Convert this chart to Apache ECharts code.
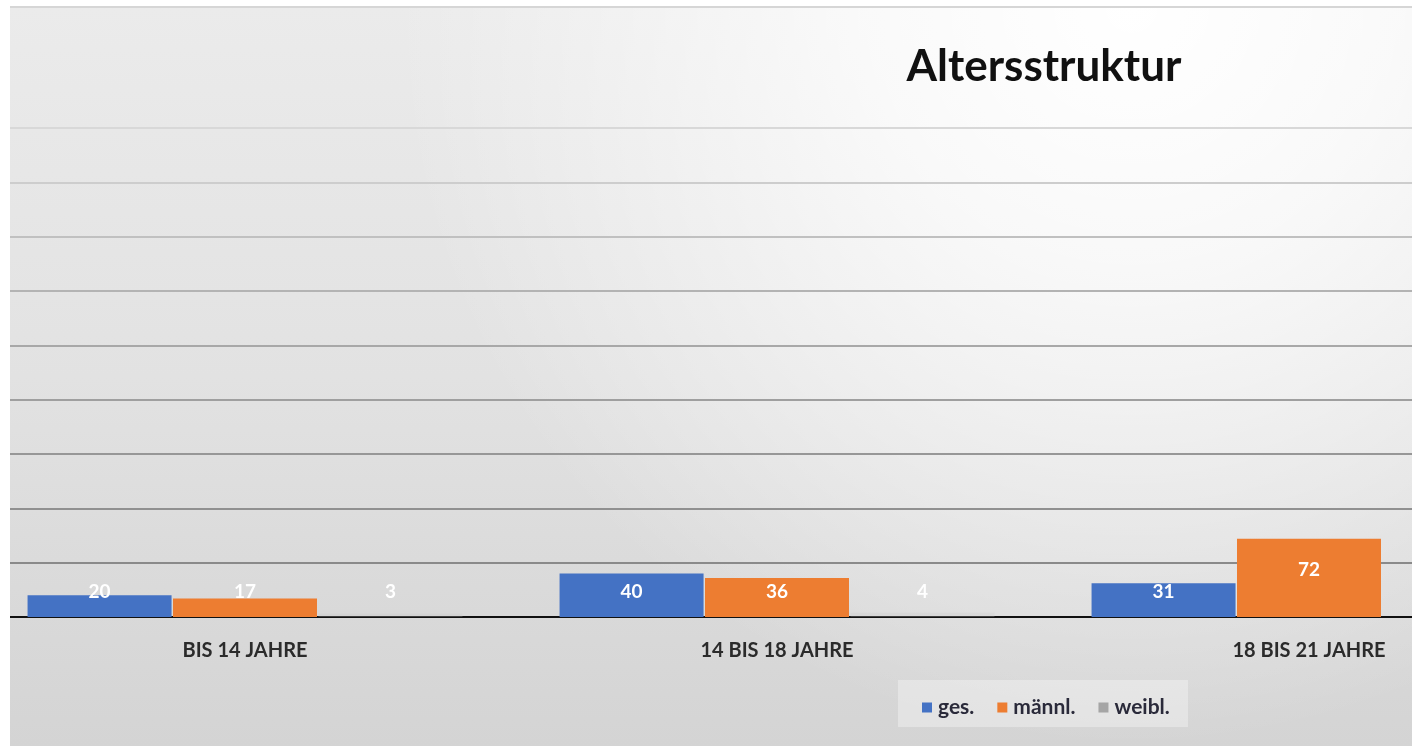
<!DOCTYPE html>
<html>
<head>
<meta charset="utf-8">
<title>Altersstruktur</title>
<script src="https://cdn.jsdelivr.net/npm/echarts@6/dist/echarts.min.js"></script>
<style>
	html, body { margin: 0; padding: 0; background: #ffffff; }
	#chart { width: 1412px; height: 746px; }
</style>
</head>
<body>
<div id="chart"></div>
<script>
// Data
const categories = ["BIS 14 JAHRE", "14 BIS 18 JAHRE", "18 BIS 21 JAHRE"];
const seriesNames = ["ges.", "männl.", "weibl."];
const gesValues = [20, 40, 31];
const maennlValues = [17, 36, 72];
const weiblValues = [3, 4, null]; // third one is cut off at the right edge
const colors = ["#4472C4", "#ED7D31", "#A5A5A5"];

// grid lines get lighter towards the top (they sit on a white-to-grey background)
const splitColors = [
	"#888888", "#8a8a8a", "#909090", "#979797", "#9f9f9f",
	"#a8a8a8", "#b3b3b3", "#c0c0c0", "#cdcdcd", "#d8d8d8",
];

const labelFont = "Lato, 'Open Sans', sans-serif";

function buildData(values) {
	// bars with a tall body get their label a bit higher, like in the original
	return values.map((v) => {
		if (v !== null && v > 60) {
			return { value: v, label: { position: "inside", offset: [0, -8] } };
		}
		return v;
	});
}

const chart = echarts.init(document.getElementById("chart"), null, {
	renderer: "canvas",
});

const barLabel = {
	show: true,
	position: "insideBottom",
	distance: 16,
	color: "#ffffff",
	fontFamily: labelFont,
	fontWeight: "bold",
	fontSize: 19,
};

chart.setOption({
	animation: false,
	backgroundColor: "#ffffff",
	color: colors,
	graphic: [
		{
			// chart area background: grey, lighter at the top
			type: "rect",
			z: -10,
			shape: { x: 10, y: 7, width: 1402, height: 739 },
			style: {
				fill: {
					type: "linear",
					x: 0, y: 0, x2: 0, y2: 1,
					colorStops: [
						{ offset: 0, color: "#ebebeb" },
						{ offset: 0.5, color: "#e2e2e2" },
						{ offset: 1, color: "#d4d4d4" },
					],
				},
			},
		},
		{
			// white glow in the top right corner
			type: "rect",
			z: -9,
			shape: { x: 10, y: 7, width: 1402, height: 739 },
			style: {
				fill: {
					type: "radial",
					x: 0.8,
					y: 0.0,
					r: 1.0,
					colorStops: [
						{ offset: 0, color: "rgba(255,255,255,1)" },
						{ offset: 0.35, color: "rgba(255,255,255,0.75)" },
						{ offset: 1, color: "rgba(255,255,255,0)" },
					],
				},
			},
		},
		{
			type: "line",
			z: 5,
			shape: { x1: 10, y1: 7, x2: 1412, y2: 7 },
			style: { stroke: "#d6d6d6", lineWidth: 2 },
		},
		{
			// white margin on the left, hides the overflowing grid
			type: "rect",
			z: 100,
			shape: { x: 0, y: 0, width: 10, height: 746 },
			style: { fill: "#ffffff" },
		},
		{
			type: "rect",
			z: 1,
			shape: { x: 898, y: 680, width: 290, height: 47 },
			style: { fill: "rgba(245,245,245,0.45)" },
		},
	],
	title: {
		text: "Altersstruktur",
		left: 1039,
		top: 40,
		textAlign: "center",
		textStyle: {
			fontFamily: labelFont,
			fontWeight: "bold",
			fontSize: 44,
			color: "#111111",
		},
	},
	legend: {
		data: [
			{ name: seriesNames[0] },
			{ name: seriesNames[1] },
			{ name: seriesNames[2], itemStyle: { color: colors[2], opacity: 1 } },
		],
		left: 917,
		top: 692,
		itemWidth: 10,
		itemHeight: 10,
		itemGap: 23,
		icon: "rect",
		textStyle: {
			fontFamily: labelFont,
			fontWeight: "bold",
			fontSize: 21,
			color: "#2a2a3a",
			padding: [0, 0, 0, 1],
		},
	},
	grid: {
		left: -21,
		right: -163,
		top: 128,
		bottom: 129,
		containLabel: false,
		outerBoundsMode: "none",
	},
	xAxis: {
		type: "category",
		data: categories,
		axisTick: { show: false },
		axisLine: {
			show: true,
			lineStyle: { color: "#111111", width: 2 },
		},
		axisLabel: {
			margin: 24,
			fontFamily: labelFont,
			fontWeight: "bold",
			fontSize: 20,
			color: "#2b2b2b",
		},
	},
	yAxis: {
		type: "value",
		min: 0,
		max: 450,
		interval: 50,
		axisLabel: { show: false },
		axisLine: { show: false },
		axisTick: { show: false },
		splitLine: {
			show: true,
			lineStyle: { color: splitColors, width: 2 },
		},
	},
	series: [
		{
			name: seriesNames[0],
			type: "bar",
			barWidth: 144,
			barGap: "1%",
			data: buildData(gesValues),
			label: barLabel,
		},
		{
			name: seriesNames[1],
			type: "bar",
			barWidth: 144,
			barGap: "1%",
			data: buildData(maennlValues),
			label: barLabel,
		},
		{
			name: seriesNames[2],
			type: "bar",
			barWidth: 144,
			barGap: "1%",
			// the grey bars hardly stand out from the background in the original
			itemStyle: { color: "rgba(200,200,200,0.25)" },
			data: buildData(weiblValues),
			label: barLabel,
		},
	],
});
</script>
</body>
</html>
